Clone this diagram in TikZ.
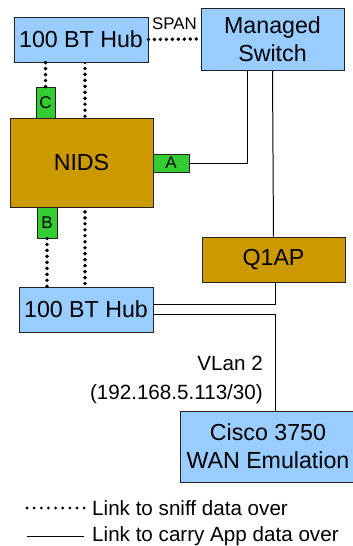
\documentclass[tikz,border=0pt]{standalone}
\usepackage{fontspec}
\setmainfont{Liberation Sans}
\usepackage{tikz}
\usetikzlibrary{positioning,calc,backgrounds}
\definecolor{HubBlue}{HTML}{99CCFF}
\definecolor{BoxGold}{HTML}{CC9900}
\definecolor{PortGreen}{HTML}{33CC33}
\definecolor{EdgeGray}{HTML}{222222}
\newcommand{\px}{0.03cm}

\begin{document}
\begin{tikzpicture}[x=\px,y=-\px,
  boxfont/.style={font=\fontsize{19.8}{24}\selectfont},
  hubbox/.style={draw=EdgeGray,line width=.8pt,fill=HubBlue,boxfont,align=center,inner sep=0pt},
  nidsbox/.style={draw=EdgeGray,line width=.8pt,fill=BoxGold,boxfont,align=center,inner sep=0pt},
  portbox/.style={draw=EdgeGray,line width=.8pt,fill=PortGreen,font=\fontsize{14.5}{16}\selectfont,inner sep=0pt},
  sniff/.style={line width=3.3pt,line cap=round,dash pattern=on 0pt off 5.1pt},
  carry/.style={line width=.85pt,black}]

\useasboundingbox (0,0) rectangle (352,546);

% ================= top row: hub, switch =================
\node[hubbox,minimum width=134*\px,minimum height=45*\px] (hubtop) at (81,39.5) {100 BT Hub};
\node[hubbox,minimum width=143*\px,minimum height=62*\px] (switch) at (272.5,39) {Managed\\Switch};
\draw[sniff] (hubtop.east) -- (switch.west)
  node[midway,above=3pt,font=\fontsize{14.4}{16}\selectfont] (span) {SPAN};

% ================= the sensor and its ports =================
\node[nidsbox,minimum width=143*\px,minimum height=89*\px] (nids) at (81.5,162.5) {NIDS};
\node[portbox,minimum width=19*\px,minimum height=31*\px] (portC) at (45.5,102.5) {C};
\node[portbox,minimum width=20*\px,minimum height=31*\px] (portB) at (47,222.5) {B};
\node[portbox,minimum width=36*\px,minimum height=18*\px] (portA) at (171,163) {A};

% ================= lower part =================
\node[nidsbox,minimum width=143*\px,minimum height=45*\px] (q1ap) at (273.5,259.5) {Q1AP};
\node[hubbox,minimum width=134*\px,minimum height=45*\px] (hubbot) at (86,309.5) {100 BT Hub};
\node[hubbox,minimum width=176*\px,minimum height=71*\px] (cisco) at (268,446.5) {Cisco 3750\\WAN Emulation};
\node[font=\fontsize{17.6}{25}\selectfont,align=right,anchor=east,inner sep=0pt] (vlan) at (263,380)
  {VLan 2\\(192.168.5.113/30)};

% sniff links (the long one runs behind the NIDS box)
\begin{scope}[on background layer]
  \draw[sniff] ([xshift=4*\px]hubtop.south) -- ([xshift=-1*\px]hubbot.north);
\end{scope}
\draw[sniff] (portC.north) -- (portC.north |- hubtop.south);
\draw[sniff] (portB.south) -- (portB.south |- hubbot.north);

% app data links
\draw[carry] (portA.east) -| ([xshift=-25*\px]switch.south);
\draw[carry] (switch.south) -- (q1ap.north);
\draw[carry] ([yshift=5*\px]hubbot.east) -| ([xshift=1.5*\px]q1ap.south);
\draw[carry] ([yshift=-5*\px]hubbot.east) -| ([xshift=7*\px]cisco.north);

% ================= legend =================
\coordinate (legAa) at (27,508);
\coordinate (legAb) at (85,508);
\coordinate (legBa) at (27,536);
\coordinate (legBb) at (84,536);
\draw[line width=2.6pt,line cap=round,dash pattern=on 0pt off 6.1pt] (legAa) -- (legAb);
\draw[carry] (legBa) -- (legBb);
\node[font=\fontsize{17.6}{20}\selectfont,anchor=west,inner sep=0pt] (legA) at (92,508) {Link to sniff data over};
\node[font=\fontsize{17.6}{20}\selectfont,anchor=west,inner sep=0pt] (legB) at (92,536) {Link to carry App data over};
\end{tikzpicture}
\end{document}
